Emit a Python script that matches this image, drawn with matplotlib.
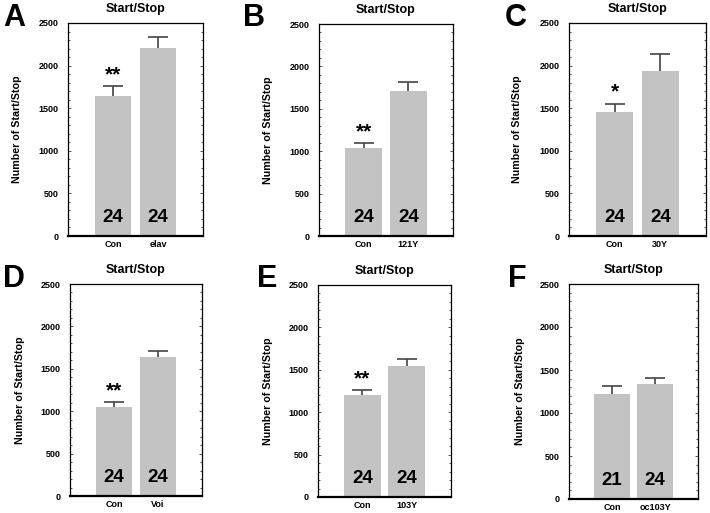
import matplotlib
matplotlib.use('Agg')
import matplotlib.pyplot as plt
from matplotlib.ticker import MultipleLocator

plt.rcParams['font.family'] = ['Liberation Sans', 'DejaVu Sans']
plt.rcParams['font.weight'] = 'bold'

letters = ['A', 'B', 'C', 'D', 'E', 'F']
groups = [['Con', 'elav'], ['Con', '121Y'], ['Con', '30Y'],
          ['Con', 'Voi'], ['Con', '103Y'], ['Con', 'oc103Y']]
means = [[1640, 2210], [1040, 1715], [1455, 1940],
         [1045, 1640], [1197, 1540], [1217, 1333]]
errors = [[120, 130], [60, 100], [100, 200],
          [60, 70], [67, 83], [93, 74]]
counts = [['24', '24'], ['24', '24'], ['24', '24'],
          ['24', '24'], ['24', '24'], ['21', '24']]
stars = ['**', '**', '*', '**', '**', '']

W, H = 710, 513
# axes boxes in pixels: left, right, top, bottom
boxes = [(68, 203, 23, 236), (319, 453, 24, 236), (569, 706, 23, 236),
         (70, 202, 284, 496), (318, 451, 285, 497), (569, 698, 284, 499)]
letter_xy = [(3, 26), (243, 26), (505, 26), (3, 287), (257, 287), (508, 287)]

fig = plt.figure(figsize=(W / 100, H / 100), dpi=100)

for i in range(6):
    l, r, t, b = boxes[i]
    ax = fig.add_axes([l / W, 1 - b / H, (r - l) / W, (b - t) / H])
    xs = [1, 2]
    ax.bar(xs, means[i], width=0.82, color='#c3c3c3', zorder=2)
    eb = ax.errorbar(xs, means[i], yerr=[[0, 0], errors[i]], fmt='none',
                     ecolor='#444444', elinewidth=1.2, capsize=7.5, capthick=1.2, zorder=3)
    eb[1][0].set_visible(False)  # no lower cap
    ax.set_xlim(0, 3)
    ax.set_ylim(0, 2500)
    ax.set_xticks(xs)
    ax.set_xticklabels(groups[i], fontsize=6.5, fontweight='bold')
    ax.set_yticks(range(0, 2501, 500))
    ax.yaxis.set_minor_locator(MultipleLocator(100))
    ax.tick_params(axis='y', which='both', direction='in', left=True, right=True,
                   labelsize=6.5, pad=7)
    ax.tick_params(axis='y', which='major', length=2, width=0.7, color='#555555')
    ax.tick_params(axis='y', which='minor', length=1.5, width=0.7, color='#555555')
    ax.tick_params(axis='x', direction='in', length=2, width=0.7, labelsize=6.5, pad=3)
    for lab in ax.get_yticklabels():
        lab.set_fontweight('bold')
    for side in ['left', 'right', 'top']:
        ax.spines[side].set_linewidth(0.9)
    ax.spines['bottom'].set_linewidth(1.6)
    ax.set_title('Start/Stop', fontsize=9, fontweight='bold', pad=8)
    ax.set_ylabel('Number of Start/Stop', fontsize=7.7, fontweight='bold')
    ax.yaxis.set_label_coords(-0.34, 0.5)
    for x, c in zip(xs, counts[i]):
        ax.text(x, 215, c, ha='center', va='center', fontsize=13.5, fontweight='bold', zorder=4)
    if stars[i]:
        top = means[i][0] + errors[i][0]
        ax.text(1, top + 20, stars[i], ha='center', va='bottom', fontsize=15,
                fontweight='bold', zorder=4)
    lx, ly = letter_xy[i]
    fig.text(lx / W, 1 - ly / H, letters[i], fontsize=22, fontweight='bold',
             ha='left', va='baseline')

fig.savefig('out.png', dpi=100)
